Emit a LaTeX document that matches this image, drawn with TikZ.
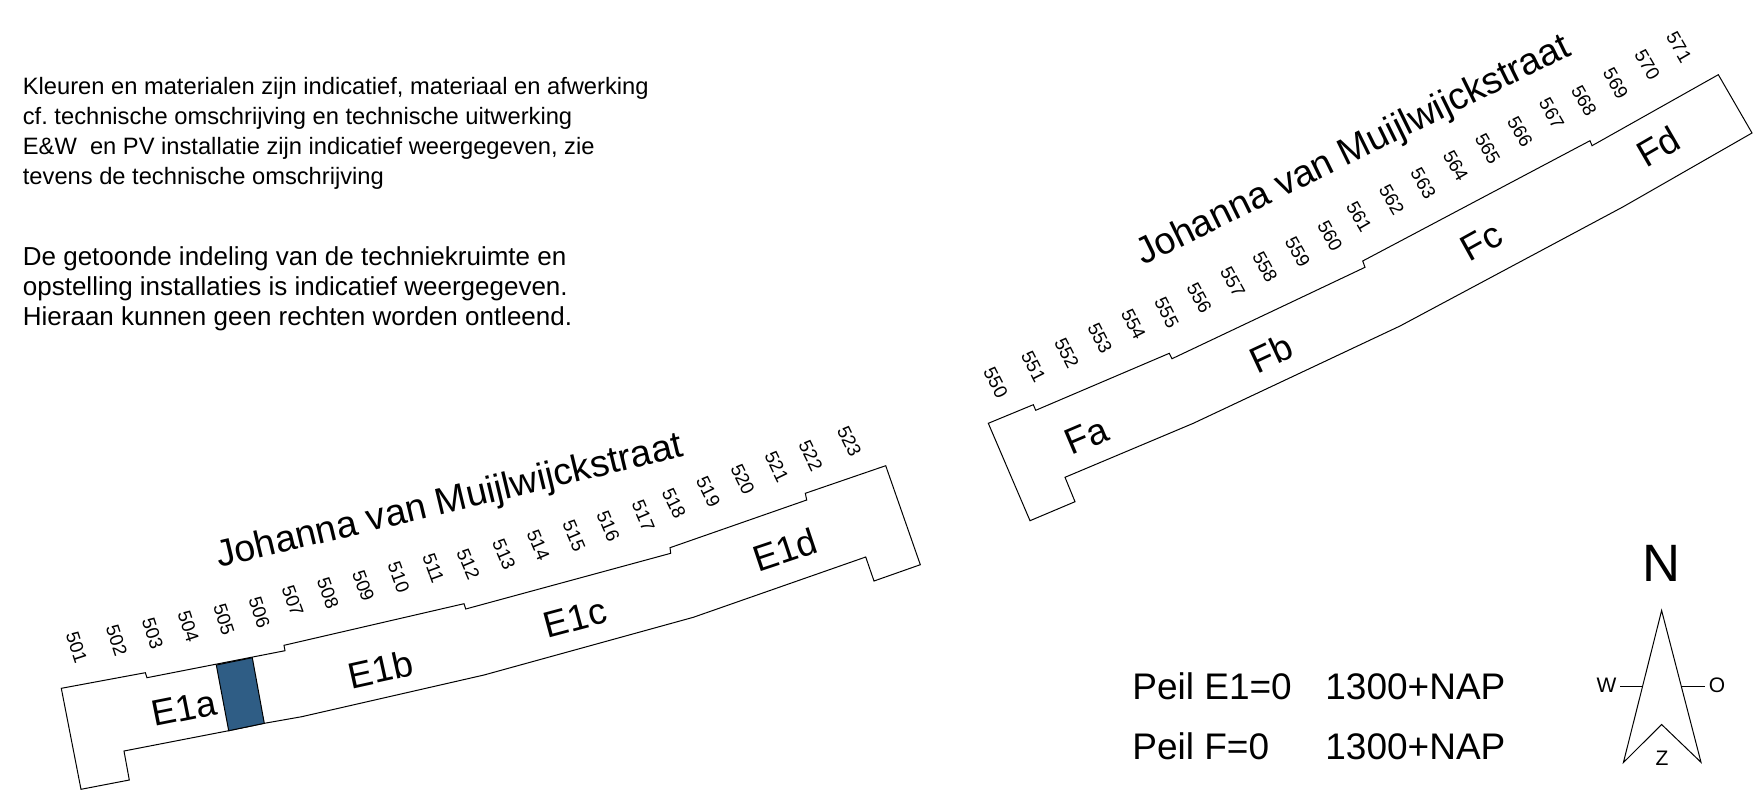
\documentclass[tikz,border=0pt]{standalone}
\usepackage{fontspec}
\setmainfont{Liberation Sans}
\usetikzlibrary{positioning}
\frenchspacing
\definecolor{techblauw}{RGB}{47,93,133}
\tikzstyle{muur}=[draw=black, line width=0.5pt, line join=miter]
\tikzstyle{straat}=[anchor=base west, inner sep=0pt, font=\fontsize{18.8}{22}\selectfont]
\tikzstyle{blok}=[inner sep=0pt, font=\fontsize{18.3}{21}\selectfont]
\tikzstyle{nummer}=[inner sep=0pt, font=\fontsize{9.4}{11}\selectfont]
\tikzstyle{peil}=[anchor=base west, inner sep=0pt, font=\fontsize{18.5}{22}\selectfont]
\tikzstyle{windstreek}=[inner sep=0pt, font=\fontsize{10.5}{12}\selectfont]

\begin{document}
\begin{tikzpicture}[x=0.5pt,y=-0.5pt]
\useasboundingbox (0,0) rectangle (1764,791);

% blok E1
\draw[muur] (61.3,688.3) -- (145.3,672.7) -- (147,677.7) -- (285,650.7) -- (284,645.3)
    -- (464,603.7) -- (465.7,609) -- (670.7,553.3) -- (670,547.7) -- (806.7,500)
    -- (805.3,493.3) -- (885.7,465.7) -- (920.3,564.7) -- (874,581) -- (865.7,557)
    -- (693.3,617.3) -- (484,675) -- (301.7,716.7) -- (264.3,723.3) -- (228.7,730.7)
    -- (124,751) -- (129.3,780) -- (81,789.3) -- cycle;
\draw[muur, fill=techblauw] (216.3,665) -- (252.3,657.7) -- (264.3,723.3) -- (228.7,730.7) -- cycle;

% blok F
\draw[muur] (988.3,423.3) -- (1033.3,404.7) -- (1035.7,410.3) -- (1169.3,353.3) -- (1172,358.7)
    -- (1365,267.3) -- (1362.7,261) -- (1590,140.7) -- (1592,145.7)
    -- (1718.3,74.7) -- (1752,133) -- (1623.3,206.7) -- (1400,326) -- (1193.3,423.3)
    -- (1065,477.3) -- (1075,501.7) -- (1030,520.7) -- cycle;

% straatnamen
\node[straat, rotate=13.5] (straatE) at (219,568) {Johanna van Muijlwijckstraat};
\node[straat, rotate=26.2] (straatF) at (1143,266) {Johanna van Muijlwijckstraat};

% bouwdelen
\node[blok, rotate=11.3] (E1a) at (184.3,708.3) {E1a};
\node[blok, rotate=12.5] (E1b) at (380.5,669.3) {E1b};
\node[blok, rotate=15] (E1c) at (575,618.3) {E1c};
\node[blok, rotate=18.5] (E1d) at (785,550) {E1d};
\node[blok, rotate=23] (Fa) at (1086.7,436) {Fa};
\node[blok, rotate=25] (Fb) at (1271,353.3) {Fb};
\node[blok, rotate=29] (Fc) at (1481.7,241.7) {Fc};
\node[blok, rotate=30] (Fd) at (1658.3,146.7) {Fd};

% woningnummers
\foreach \nr/\x/\y/\r in {501/76.7/647.3/-72, 502/116.7/640.7/-72, 503/152.7/633.3/-72,
    504/188.3/626.7/-72, 505/224/619.3/-72, 506/259.3/612.3/-72, 507/292.7/600.7/-70,
    508/328/593.3/-70, 509/363.3/585.7/-70, 510/398.7/577.3/-70, 511/433.3/568.3/-70,
    512/468.3/564/-67, 513/504/554.3/-67, 514/538.3/545/-67, 515/574/535.7/-67,
    516/608.3/526/-67, 517/643.3/515.7/-67, 518/674/503.3/-64, 519/708.3/491.7/-64,
    520/742.7/479.3/-64, 521/776.7/466.7/-64, 522/810.7/455.7/-64, 523/849.3/441.3/-64,
    550/995.7/382.7/-63, 551/1033.3/366.7/-63, 552/1066.7/353.3/-63, 553/1100/338.3/-63,
    554/1133.3/324.3/-63, 555/1166.7/312.7/-63, 556/1199.3/297.7/-61, 557/1232.7/281.7/-61,
    558/1265/266.7/-61, 559/1297.7/251.7/-61, 560/1330/236/-61, 561/1359/216.7/-60,
    562/1391.7/200/-60, 563/1423.3/183.3/-60, 564/1455.7/166/-60, 565/1487.7/149/-60,
    566/1520/131.7/-60, 567/1551.7/113.3/-60, 568/1584/100.7/-60, 569/1615.7/83.3/-60,
    570/1647.3/65/-60, 571/1679/47.3/-60}
    \node[nummer, rotate=\r] (n\nr) at (\x,\y) {\nr};

% peil
\node[peil] (peilE) at (1132,699) {Peil E1=0};
\node[peil] (peilF) at (1132,759.3) {Peil F=0};
\node[peil] (napE) at (1325,699) {1300+NAP};
\node[peil] (napF) at (1325,759.3) {1300+NAP};

% noordpijl
\draw[muur] (1661.6,610.5) -- (1701,762.3) -- (1661.6,724.5) -- (1623.4,762.5) -- cycle;
\coordinate (wIn) at (1642.6,686);
\coordinate (wUit) at (1620,686);
\coordinate (oIn) at (1681.2,686);
\coordinate (oUit) at (1704.5,686);
\draw[muur] (wUit) -- (wIn);
\draw[muur] (oIn) -- (oUit);
\node[windstreek] (W) at (1606.6,685) {W};
\node[windstreek] (O) at (1717,685) {O};
\node[windstreek] (Z) at (1662,758) {Z};
\node[inner sep=0pt, font=\fontsize{26.3}{30}\selectfont] (N) at (1661.6,563) {N};

% tekst
\node[anchor=base west, inner sep=0pt, align=left, font=\fontsize{11.85}{15}\selectfont] (tekst1) at (22.5,184.3)
    {Kleuren en materialen zijn indicatief, materiaal en afwerking\\
     cf. technische omschrijving en technische uitwerking\\
     E\&W\ \ en PV installatie zijn indicatief weergegeven, zie\\
     tevens de technische omschrijving};
\node[anchor=base west, inner sep=0pt, align=left, font=\fontsize{13}{15}\selectfont] (tekst2) at (22.5,325)
    {De getoonde indeling van de techniekruimte en\\
     opstelling installaties is indicatief weergegeven.\\
     Hieraan kunnen geen rechten worden ontleend.};

\end{tikzpicture}
\end{document}
